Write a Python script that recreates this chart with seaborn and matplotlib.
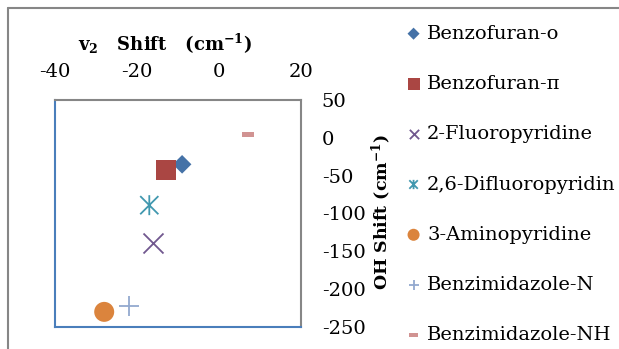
import matplotlib
matplotlib.use("Agg")
import matplotlib.pyplot as plt
import seaborn as sns
import pandas as pd
from matplotlib.path import Path
from matplotlib.lines import Line2D

# ---- data ----
series = ["Benzofuran-o", "Benzofuran-π", "2-Fluoropyridine", "2,6-Difluoropyridin",
          "3-Aminopyridine", "Benzimidazole-N", "Benzimidazole-NH"]
v2_shift = [-9, -13, -16, -17, -28, -22, 7]
oh_shift = [-35, -43, -139, -89, -230, -222, 5]
x_ticks = [-40, -20, 0, 20]
y_ticks = [50, 0, -50, -100, -150, -200, -250]

colors = ["#4572A7", "#AA4643", "#71588F", "#4198AF", "#DB843D", "#93A9CF", "#D19392"]

ast_path = Path([(-0.5, -0.5), (0.5, 0.5), (-0.5, 0.5), (0.5, -0.5), (0, -0.55), (0, 0.55)],
                [Path.MOVETO, Path.LINETO, Path.MOVETO, Path.LINETO, Path.MOVETO, Path.LINETO])
dash_marker = [(-1, -0.42), (1, -0.42), (1, 0.42), (-1, 0.42)]
markers = ["D", "s", "x", ast_path, "o", "+", dash_marker]
sizes = [90, 207, 207, 207, 207, 207, 75]
legend_sizes = [38, 75, 45, 45, 75, 45, 40]
lws = [0, 0, 1.3, 1.3, 0, 1.3, 0]

sns.set_theme(style="white")
plt.rcParams["font.family"] = ["DejaVu Serif"]
plt.rcParams["mathtext.fontset"] = "dejavuserif"
plt.rcParams["axes.unicode_minus"] = False
plt.rcParams["text.color"] = "black"
plt.rcParams["axes.labelcolor"] = "black"

df = pd.DataFrame({"series": series, "v2": v2_shift, "oh": oh_shift})

fig = plt.figure(figsize=(6.19, 3.49), dpi=100)
ax = fig.add_axes([55 / 619, 1 - 327 / 349, 246 / 619, 227 / 349])

for i, name in enumerate(series):
    sub = df[df["series"] == name]
    if lws[i] == 0:
        kw = dict(color=colors[i], edgecolor="none")
    elif i == 3:
        kw = dict(facecolor="none", edgecolor=colors[i], linewidth=lws[i])
    else:
        kw = dict(color=colors[i], linewidth=lws[i])
    sns.scatterplot(data=sub, x="v2", y="oh", ax=ax, marker=markers[i], s=sizes[i],
                    label=name, legend=False, **kw)

ax.set_xlim(-40, 20)
ax.set_ylim(-250, 50)
ax.set_xticks(x_ticks)
ax.set_yticks(y_ticks)
ax.xaxis.tick_top()
ax.yaxis.tick_right()
ax.tick_params(axis="both", length=0, labelsize=14, colors="black")
ax.tick_params(axis="x", pad=14)
ax.tick_params(axis="y", pad=15)
for s in ["left", "bottom"]:
    ax.spines[s].set_color("#4A7EBB")
    ax.spines[s].set_linewidth(1.5)
for s in ["top", "right"]:
    ax.spines[s].set_color("#868686")
    ax.spines[s].set_linewidth(1.5)

ax.set_xlabel(r"v$_\mathbf{2}$   Shift   (cm$^\mathbf{-1}$)", fontsize=13, fontweight="bold")
ax.xaxis.set_label_position("top")
ax.xaxis.set_label_coords((165 - 55) / 246, (327 - 44) / 227)
ax.xaxis.label.set_va("center")
ax.set_ylabel(r"OH Shift (cm$^\mathbf{-1}$)", fontsize=12.5, fontweight="bold")
ax.yaxis.set_label_position("right")
ax.yaxis.set_label_coords((382 - 55) / 246, (327 - 212) / 227)
ax.yaxis.label.set_va("center")
ax.yaxis.label.set_rotation(90)

handles, labels = ax.get_legend_handles_labels()
leg = fig.legend(handles, labels, loc="upper left", bbox_to_anchor=(398 / 619, 1 - 17 / 349),
                 frameon=False, fontsize=14, labelspacing=1.66,
                 handlelength=0.8, handletextpad=0.3, borderaxespad=0)
for t in leg.get_texts():
    t.set_color("black")
for h, sz in zip(leg.legend_handles, legend_sizes):
    h.set_sizes([sz])

fig.add_artist(Line2D([8 / 619, 8 / 619], [0, 1 - 8 / 349], color="#868686", lw=1.5))
fig.add_artist(Line2D([8 / 619, 1], [1 - 8 / 349, 1 - 8 / 349], color="#868686", lw=1.5))

fig.savefig("out.png", dpi=100)
